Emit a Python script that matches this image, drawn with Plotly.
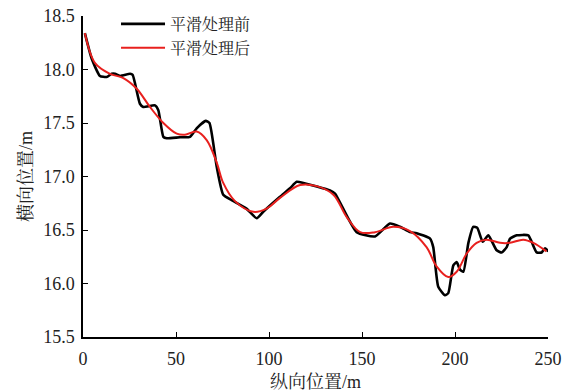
import plotly.graph_objects as go

# 平滑处理前 (before smoothing)
raw_x = [1, 4.7, 9.1, 12.7, 15.4, 17.2, 19.9, 25.3, 26.7, 30.6, 32.4, 38.7, 40.5, 43.2, 45,
         52.2, 57.5, 61.1, 66, 68, 71.9, 75.4, 79.9, 87.9, 93.4, 96.9, 105.9, 111.3, 114.9,
         118.5, 132.8, 135.5, 147.1, 157, 165, 170.4, 175.8, 179.4, 186.6, 188.3, 191,
         194.6, 196.4, 199.1, 200.9, 202.7, 204.5, 207.2, 209.8, 212, 214.9, 217.9, 222.4,
         225.1, 227.8, 229.6, 233.2, 239.4, 241.2, 243.9, 246.6, 248.4, 250.2]
raw_y = [18.34, 18.10, 17.94, 17.93, 17.96, 17.96, 17.94, 17.96, 17.95, 17.68, 17.65, 17.665,
         17.62, 17.37, 17.357, 17.367, 17.37, 17.45, 17.52, 17.50, 17.09, 16.83, 16.78, 16.70,
         16.61, 16.67, 16.81, 16.89, 16.95, 16.94, 16.87, 16.84, 16.48, 16.44, 16.56, 16.53,
         16.48, 16.47, 16.42, 16.34, 15.97, 15.89, 15.91, 16.17, 16.20, 16.13, 16.11, 16.38,
         16.53, 16.52, 16.39, 16.45, 16.31, 16.29, 16.34, 16.42, 16.45, 16.45, 16.39, 16.29,
         16.29, 16.33, 16.30]

# 平滑处理后 (after smoothing)
smooth_x = [1, 6.5, 14.5, 21.7, 28.9, 36, 43.2, 50.4, 54.8, 61.1, 66.5, 71.9, 75.4, 81.7,
            91.6, 98.7, 105.9, 116.7, 125.6, 134.6, 141.8, 149, 157, 166.8, 175.8, 184.7,
            190.1, 196.4, 200.9, 206.3, 211.6, 217, 224.2, 229.6, 236.7, 242.1, 249.2]
smooth_y = [18.34, 18.06, 17.96, 17.92, 17.82, 17.65, 17.50, 17.40, 17.39, 17.42, 17.34,
            17.13, 16.94, 16.77, 16.67, 16.70, 16.80, 16.92, 16.91, 16.83, 16.62, 16.48,
            16.48, 16.53, 16.49, 16.34, 16.16, 16.06, 16.11, 16.28, 16.38, 16.41, 16.38,
            16.38, 16.41, 16.38, 16.30]

x_ticks = [0, 50, 100, 150, 200, 250]
y_ticks = [15.5, 16.0, 16.5, 17.0, 17.5, 18.0, 18.5]

FONT = "'Liberation Serif', 'Noto Serif CJK SC', 'Noto Sans CJK SC', serif"
TXT = "#222222"

fig = go.Figure()
fig.add_trace(go.Scatter(x=raw_x, y=raw_y, mode="lines", name="平滑处理前",
                         line=dict(color="black", width=2.6, shape="spline", smoothing=0.5)))
fig.add_trace(go.Scatter(x=smooth_x, y=smooth_y, mode="lines", name="平滑处理后",
                         line=dict(color="#e8201e", width=2, shape="spline", smoothing=1.0)))

fig.update_layout(
    template="none",
    width=571, height=392,
    margin=dict(l=83, r=23, t=16, b=55, autoexpand=False),
    paper_bgcolor="white", plot_bgcolor="white",
    font=dict(family=FONT, size=18, color=TXT),
    showlegend=True,
    hovermode=False,
    legend=dict(x=0.071, y=1.028, xanchor="left", yanchor="top",
                font=dict(family=FONT, size=16, color=TXT),
                bgcolor="rgba(0,0,0,0)", tracegroupgap=0, itemwidth=44),
)
fig.update_xaxes(
    range=[0, 250], tickvals=x_ticks, ticktext=[str(v) for v in x_ticks],
    showgrid=False, zeroline=False, showline=True, linecolor="black", linewidth=1.5,
    ticks="inside", ticklen=5, tickcolor="black", tickwidth=1, automargin=False,
    ticklabelstandoff=5,
    tickfont=dict(family=FONT, size=18, color=TXT),
    title=dict(text="纵向位置/m", font=dict(family=FONT, size=18, color=TXT), standoff=8),
)
fig.update_yaxes(
    range=[15.5, 18.5], tickvals=y_ticks, ticktext=[f"{v:.1f}" for v in y_ticks],
    showgrid=False, zeroline=False, showline=True, linecolor="black", linewidth=1.5,
    ticks="inside", ticklen=5, tickcolor="black", tickwidth=1, automargin=False,
    ticklabelstandoff=3,
    tickfont=dict(family=FONT, size=18, color=TXT),
    title=dict(text="横向位置/m", font=dict(family=FONT, size=18, color=TXT), standoff=6),
)

# remove the default 8px page margin so the figure fills the window exactly
fig.write_html("out.html",
               config={"displayModeBar": False},
               post_script="document.body.style.margin='0';document.body.style.padding='0';")
